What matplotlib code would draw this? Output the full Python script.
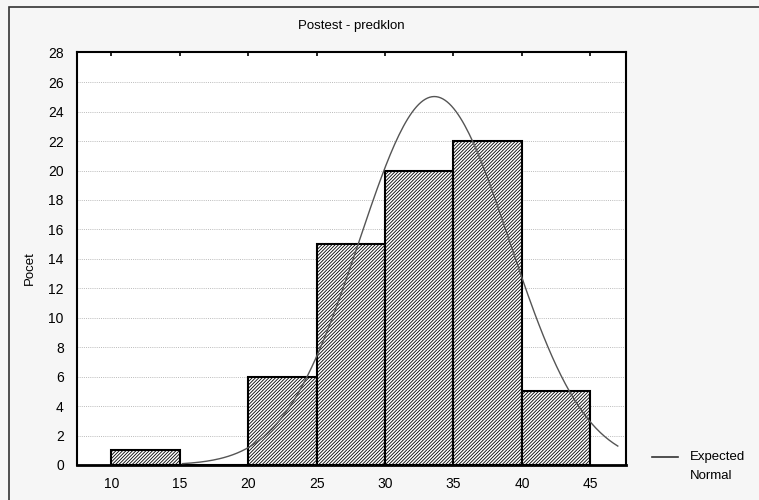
import numpy as np
import matplotlib.pyplot as plt
from matplotlib.patches import Rectangle

# Histogram data (bin edges and counts)
bin_left = [10, 15, 20, 25, 30, 35, 40]
bin_width = 5
counts = [1, 0, 6, 15, 20, 22, 5]

# Expected normal parameters
norm_mean = 33.6
norm_sd = 5.5
curve_start, curve_end = 15.2, 47.0

x_ticks = [10, 15, 20, 25, 30, 35, 40, 45]
y_ticks = list(range(0, 29, 2))

plt.rcParams['font.family'] = ['Liberation Sans', 'DejaVu Sans']
plt.rcParams['hatch.linewidth'] = 0.6

fig = plt.figure(figsize=(7.59, 5.0), dpi=100, facecolor='#f6f6f6')

# outer frame
fig.patches.append(Rectangle((9 / 759, -0.01), 1.0, 1 - 7 / 500 + 0.01,
                             transform=fig.transFigure, fill=False,
                             edgecolor='#333333', linewidth=1.2))

ax = fig.add_axes([77 / 759, 35 / 500, 549 / 759, 413 / 500])
ax.set_facecolor('white')

for g in y_ticks[1:-1]:
    ax.axhline(g, color='#bbbbbb', linestyle=(0, (1, 1.2)), linewidth=0.7, zorder=0)

ax.bar(bin_left, counts, width=bin_width, align='edge', color='white',
       edgecolor='black', linewidth=1.5, hatch='//////////', zorder=2)

n_total = sum(counts)
xs = np.linspace(curve_start, curve_end, 200)
ys = n_total * bin_width * np.exp(-0.5 * ((xs - norm_mean) / norm_sd) ** 2) / (norm_sd * np.sqrt(2 * np.pi))
ax.plot(xs, ys, color='#555555', linewidth=1.0, zorder=3)

ax.set_xlim(7.5, 47.6)
ax.set_ylim(0, 28.05)
ax.set_xticks(x_ticks)
ax.set_yticks(y_ticks)
ax.tick_params(axis='x', top=True, bottom=False, direction='in', length=3, width=1.2,
               labelsize=10, pad=9)
ax.tick_params(axis='y', left=False, labelsize=10, pad=6)
for s in ax.spines.values():
    s.set_linewidth(1.5)
ax.spines['bottom'].set_linewidth(2)

fig.text(351 / 759, 1 - 26 / 500, 'Postest - predklon', ha='center', va='center', fontsize=9.5)
fig.text(30 / 759, 1 - 268 / 500, 'Pocet', rotation=90, ha='center', va='center', fontsize=9.5)

# legend
fig.lines.append(plt.Line2D([652 / 759, 678 / 759], [1 - 457 / 500, 1 - 457 / 500],
                            transform=fig.transFigure, color='#333333', linewidth=1.2))
fig.text(690 / 759, 1 - 457 / 500, 'Expected', ha='left', va='center', fontsize=9.5)
fig.text(690 / 759, 1 - 476 / 500, 'Normal', ha='left', va='center', fontsize=9.5)

plt.savefig('out.png', dpi=100, facecolor=fig.get_facecolor())
